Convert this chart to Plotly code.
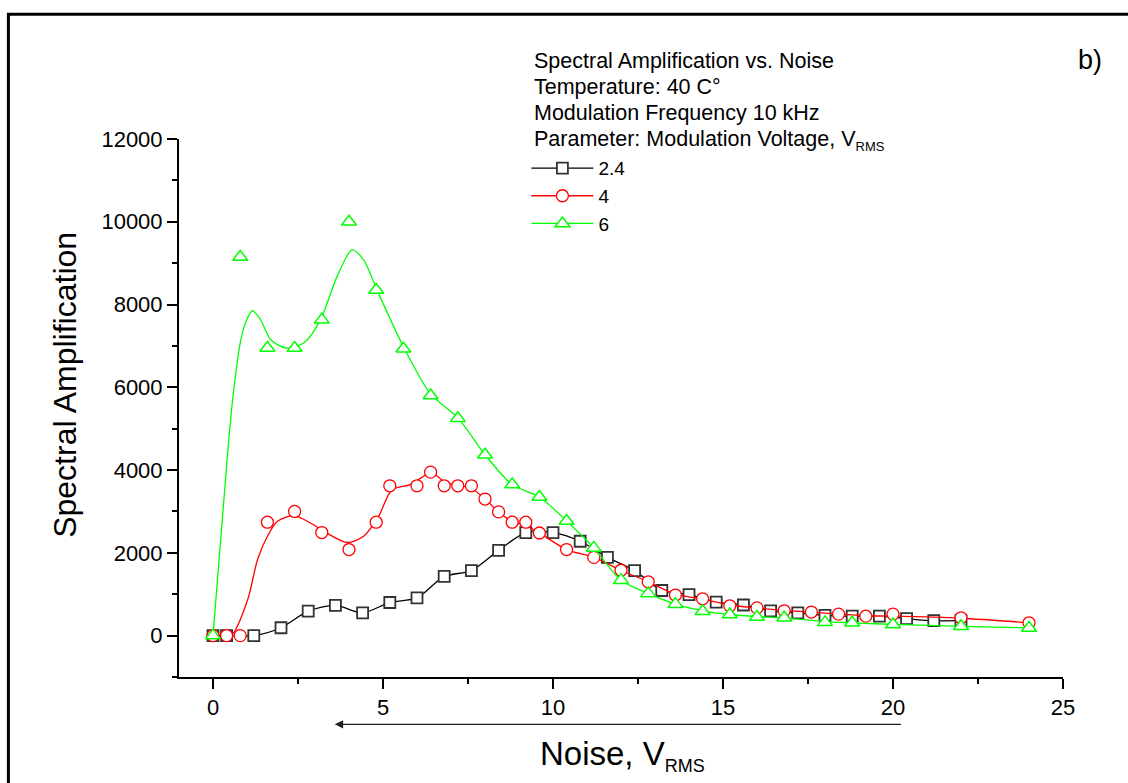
import plotly.graph_objects as go

# ---------------- data ----------------
# Series 2.4 V_RMS (black squares)
black_x = [0, 0.4, 1.2, 2.0, 2.8, 3.6, 4.4, 5.2, 6.0, 6.8, 7.6, 8.4, 9.2, 10.0, 10.8,
           11.6, 12.4, 13.2, 14.0, 14.8, 15.6, 16.4, 17.2, 18.0, 18.8, 19.6, 20.4, 21.2, 22.0]
black_y = [0, 0, 0, 190, 590, 730, 550, 800, 910, 1430, 1570, 2060, 2490, 2490, 2280,
           1890, 1570, 1090, 990, 810, 740, 600, 550, 490, 470, 470, 410, 360, 360]

# Series 4 V_RMS (red circles)
red_x = [0, 0.4, 0.8, 1.6, 2.4, 3.2, 4.0, 4.8, 5.2, 6.0, 6.4, 6.8, 7.2, 7.6, 8.0, 8.4, 8.8,
         9.2, 9.6, 10.4, 11.2, 12.0, 12.8, 13.6, 14.4, 15.2, 16.0, 16.8, 17.6, 18.4, 19.2,
         20.0, 22.0, 24.0]
red_y = [0, 0, 0, 2740, 3000, 2490, 2080, 2740, 3620, 3620, 3950, 3620, 3620, 3620, 3300,
         2990, 2740, 2740, 2480, 2080, 1890, 1580, 1300, 980, 890, 720, 670, 600, 570, 520,
         470, 520, 430, 310]
# smoothed fit curve drawn through the red data
red_fit_x = [0, 0.53, 1.02, 1.31, 1.6, 1.89, 2.38, 2.87, 3.26, 3.94, 4.43, 4.87, 5.26, 5.8,
             6.43, 6.83, 7.2, 7.6, 8.0, 8.4, 8.8, 9.2, 9.6, 10.4, 11.2, 12.0, 12.8, 13.6,
             14.4, 15.2, 16.0, 16.8, 17.6, 18.4, 19.2, 20.0, 22.0, 24.0]
red_fit_y = [0, 0, 870, 1840, 2400, 2760, 2900, 2720, 2520, 2250, 2400, 2880, 3520, 3650,
             3930, 3700, 3640, 3560, 3300, 2990, 2760, 2660, 2480, 2080, 1890, 1580, 1300,
             1000, 880, 740, 670, 610, 570, 520, 480, 470, 420, 310]

# Series 6 V_RMS (green triangles)
green_x = [0, 0.8, 1.6, 2.4, 3.2, 4.0, 4.8, 5.6, 6.4, 7.2, 8.0, 8.8, 9.6, 10.4, 11.2, 12.0,
           12.8, 13.6, 14.4, 15.2, 16.0, 16.8, 18.0, 18.8, 20.0, 22.0, 24.0]
green_y = [0, 9150, 6950, 6950, 7630, 10000, 8350, 6930, 5800, 5250, 4370, 3650, 3350, 2770,
           2120, 1340, 1020, 760, 590, 510, 450, 430, 320, 310, 270, 225, 185]
# smoothed fit curve drawn through the green data
green_fit_x = [0, 0.43, 0.61, 0.82, 1.0, 1.16, 1.4, 1.7, 2.14, 2.67, 3.16, 3.65, 4.09, 4.43,
               4.82, 5.6, 6.38, 7.21, 8.0, 8.8, 9.6, 10.4, 11.2, 12.0, 12.8, 13.6, 14.4, 15.2,
               16.0, 16.8, 18.0, 18.8, 20.0, 22.0, 24.0]
green_fit_y = [0, 4410, 5940, 7150, 7650, 7850, 7630, 7150, 6950, 7070, 7630, 8680, 9320, 9080,
               8355, 6985, 5860, 5256, 4370, 3650, 3350, 2770, 2120, 1340, 1020, 760, 600,
               510, 460, 430, 340, 310, 270, 225, 185]

series_names = ["2.4", "4", "6"]
title_lines = ["Spectral Amplification vs. Noise", "Temperature: 40 C°",
               "Modulation Frequency 10 kHz",
               "Parameter: Modulation Voltage, V<sub><span style='font-size:13px'>RMS</span></sub>"]
x_ticks = [0, 5, 10, 15, 20, 25]
y_ticks = [0, 2000, 4000, 6000, 8000, 10000, 12000]

FONT = "Liberation Sans, Arial, sans-serif"
BLACK = "#000000"
RED = "#ff0000"
GREEN = "#00ff00"

fig = go.Figure()

# black: line + markers
fig.add_trace(go.Scatter(x=black_x, y=black_y, mode="lines", line=dict(color=BLACK, width=1.3, shape="spline", smoothing=0.8),
                         showlegend=False, hoverinfo="skip"))
fig.add_trace(go.Scatter(x=black_x, y=black_y, mode="markers", showlegend=False,
                         marker=dict(symbol="square", size=11, color="white", line=dict(color="#333333", width=1.8))))
# red
fig.add_trace(go.Scatter(x=red_fit_x, y=red_fit_y, mode="lines", line=dict(color=RED, width=1.3, shape="spline", smoothing=0.8),
                         showlegend=False, hoverinfo="skip"))
fig.add_trace(go.Scatter(x=red_x, y=red_y, mode="markers", showlegend=False,
                         marker=dict(symbol="circle", size=12, color="white", line=dict(color=RED, width=1.3))))
# green
fig.add_trace(go.Scatter(x=green_fit_x, y=green_fit_y, mode="lines", line=dict(color=GREEN, width=1.3, shape="spline", smoothing=0.8),
                         showlegend=False, hoverinfo="skip"))
fig.add_trace(go.Scatter(x=green_x, y=green_y, mode="markers", showlegend=False,
                         marker=dict(symbol="triangle-up", size=13, color="white", line=dict(color=GREEN, width=1.5))))

# legend entries (line + marker samples)
legend_styles = [
    (BLACK, dict(symbol="square", size=11, color="white", line=dict(color="#333333", width=1.8))),
    (RED, dict(symbol="circle", size=12, color="white", line=dict(color=RED, width=1.3))),
    (GREEN, dict(symbol="triangle-up", size=13, color="white", line=dict(color=GREEN, width=1.5))),
]
for i, (name, (col, mk)) in enumerate(zip(series_names, legend_styles)):
    fig.add_trace(go.Scatter(x=[None], y=[None], mode="lines+markers", name=name,
                             line=dict(color=col, width=1.3), marker=mk, legendrank=i + 1))

axis_common = dict(showline=True, linecolor="black", linewidth=2, ticks="outside", ticklen=10,
                   tickwidth=2, tickcolor="black", showgrid=False, zeroline=False, mirror=False,
                   tickfont=dict(family=FONT, size=22, color="black"))

fig.update_xaxes(range=[-1, 25], tickvals=x_ticks,
                 minor=dict(dtick=2.5, tick0=0, ticks="outside", ticklen=5, tickwidth=2, tickcolor="black"),
                 **axis_common)
fig.update_yaxes(range=[-1000, 12000], tickvals=y_ticks, tickformat="d",
                 minor=dict(dtick=1000, tick0=0, ticks="outside", ticklen=5, tickwidth=2, tickcolor="black"),
                 **axis_common)

# positions of the four header lines (paper y)
title_y = [1.1458, 1.0966, 1.0492, 0.9965]
annotations = []
for line, yy in zip(title_lines, title_y):
    annotations.append(dict(text=line, xref="paper", yref="paper", x=0.399, y=yy,
                            xanchor="left", yanchor="middle", align="left", showarrow=False,
                            font=dict(family=FONT, size=21.5, color="black")))
annotations += [
    dict(text="b)", xref="paper", yref="paper", x=1.03, y=1.147, xanchor="center", yanchor="middle",
         showarrow=False, font=dict(family=FONT, size=27, color="black")),
    dict(text="Spectral Amplification", xref="paper", yref="paper", x=-0.129, y=0.543,
         xanchor="center", yanchor="middle", textangle=-90, showarrow=False,
         font=dict(family=FONT, size=32, color="black")),
    dict(text="Noise, V<sub><span style='font-size:18px'>RMS</span></sub>", xref="paper", yref="paper",
         x=0.406, y=-0.145, xanchor="left", yanchor="middle", showarrow=False,
         font=dict(family=FONT, size=33, color="black")),
    dict(text="", x=3.58, y=-0.088, xref="x", yref="paper", ax=20.28, ay=0, axref="x", ayref="pixel",
         showarrow=True, arrowhead=2, arrowsize=1.2, arrowwidth=1.4, arrowcolor="#222222", standoff=0),
]

fig.update_layout(
    width=1128, height=783,
    margin=dict(l=179, r=65, t=139, b=106),
    paper_bgcolor="white", plot_bgcolor="white",
    font=dict(family=FONT, color="black"),
    annotations=annotations,
    legend=dict(x=0.393, y=0.981, xanchor="left", yanchor="top", bgcolor="rgba(0,0,0,0)",
                font=dict(family=FONT, size=19, color="black"), itemwidth=62, tracegroupgap=0),
    shapes=[dict(type="rect", xref="paper", yref="paper", x0=-0.193, x1=1.2, y0=-0.3, y1=1.232,
                 line=dict(color="black", width=3), layer="below")],
)

fig.write_html("out.html")
